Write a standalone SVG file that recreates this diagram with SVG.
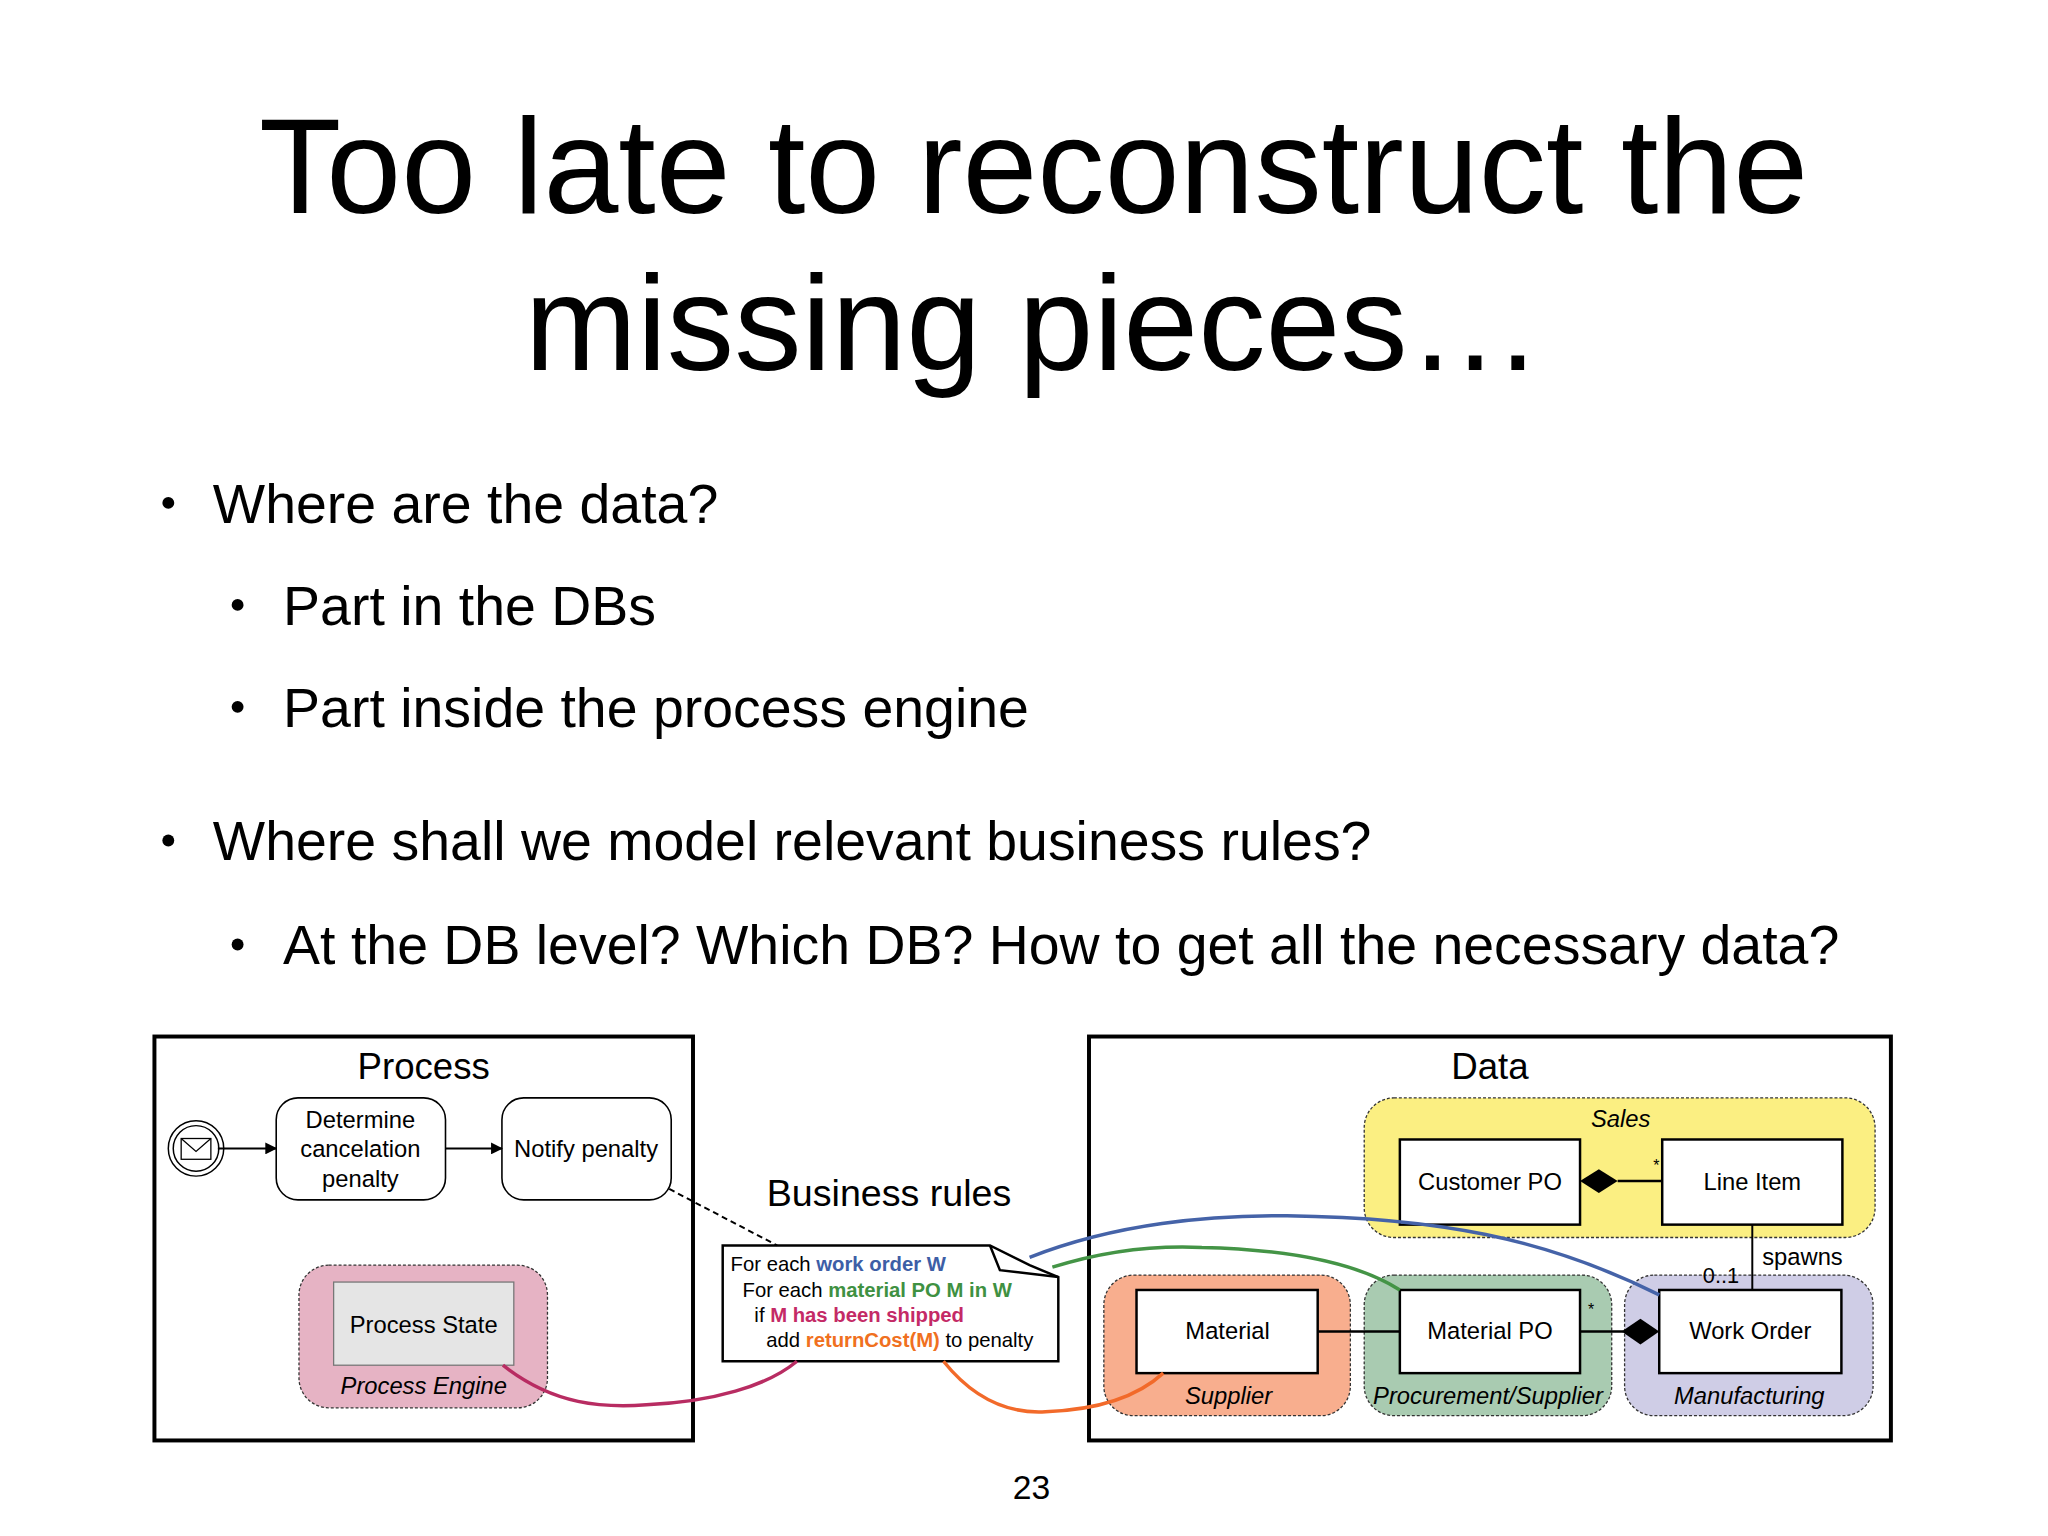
<svg xmlns="http://www.w3.org/2000/svg" width="2048" height="1536" viewBox="0 0 2048 1536">
<defs>
<style>
text{font-family:"Liberation Sans",Arial,sans-serif;fill:#000}
.title{font-size:136px;text-anchor:middle}
.b1{font-size:56px}
.frame{fill:#fff;stroke:#000;stroke-width:4}
.task{fill:#fff;stroke:#000;stroke-width:1.6}
.t{font-size:24px;text-anchor:middle}
.grp{stroke:#333;stroke-width:1.3;stroke-dasharray:3 2}
.gl{font-size:24px;font-style:italic;text-anchor:middle}
.cls{fill:#fff;stroke:#000;stroke-width:2.5}
.note{font-size:20.5px}
.cv{fill:none;stroke-width:3.5}
</style>
<marker id="ar" markerWidth="12" markerHeight="12" refX="11" refY="6" orient="auto" markerUnits="userSpaceOnUse"><path d="M0,0 L12,6 L0,12 z" fill="#000"/></marker>
</defs>
<rect width="2048" height="1536" fill="#fff"/>
<g transform="scale(0.99)">
<g id="title">
<text class="title" x="1044" y="215">Too late to reconstruct the</text>
<text class="title" x="1044" y="374">missing pieces…</text>
</g>
<g id="bullets" class="b1">
<circle cx="170" cy="508" r="6"/><text x="215" y="528">Where are the data?</text>
<circle cx="240" cy="611" r="6"/><text x="286" y="631">Part in the DBs</text>
<circle cx="240" cy="714" r="6"/><text x="286" y="734">Part inside the process engine</text>
<circle cx="170" cy="849" r="6"/><text x="215" y="869">Where shall we model relevant business rules?</text>
<circle cx="240" cy="954" r="6"/><text x="286" y="974">At the DB level? Which DB? How to get all the necessary data?</text>
</g>
<text x="1042" y="1514" font-size="34" text-anchor="middle">23</text>

<g id="process">
<rect class="frame" x="156" y="1047" width="544" height="408"/>
<text x="428" y="1090" font-size="37" text-anchor="middle">Process</text>
</g>
<g id="start">
<circle cx="198" cy="1160" r="28" fill="#fff" stroke="#000" stroke-width="1.5"/>
<circle cx="198" cy="1160" r="23" fill="#fff" stroke="#000" stroke-width="1.5"/>
<rect x="183" y="1150" width="30" height="21" fill="#fff" stroke="#000" stroke-width="1.3"/>
<path d="M183,1150 L198,1163 L213,1150" fill="none" stroke="#000" stroke-width="1.3"/>
</g>
<g id="task1">
<rect class="task" x="279" y="1109" width="171" height="103" rx="22"/>
<text class="t" x="364" y="1139">Determine</text>
<text class="t" x="364" y="1169">cancelation</text>
<text class="t" x="364" y="1199">penalty</text>
</g>
<g id="task2">
<rect class="task" x="507" y="1109" width="171" height="103" rx="22"/>
<text class="t" x="592" y="1169">Notify penalty</text>
</g>
<g id="engine">
<rect class="grp" x="302" y="1278" width="251" height="144" rx="30" fill="#e6b3c4"/>
<rect x="337" y="1295" width="182" height="84" fill="#e5e5e5" stroke="#777" stroke-width="1.3"/>
<text class="t" x="428" y="1346">Process State</text>
<text class="gl" x="428" y="1408">Process Engine</text>
</g>

<text x="898" y="1218" font-size="38" text-anchor="middle">Business rules</text>
<g id="note">
<path d="M730,1258 L1000,1258 L1040,1278 L1069,1290 L1069,1375 L730,1375 Z" fill="#fff" stroke="#000" stroke-width="2.5"/>
<path d="M1000,1258 L1010,1283 L1069,1290" fill="none" stroke="#000" stroke-width="2.5"/>
<text class="note" x="738" y="1284">For each <tspan fill="#3d5ea6" font-weight="bold">work order W</tspan></text>
<text class="note" x="750" y="1310">For each <tspan fill="#3f9142" font-weight="bold">material PO M in W</tspan></text>
<text class="note" x="762" y="1335">if <tspan fill="#c42a66" font-weight="bold">M has been shipped</tspan></text>
<text class="note" x="774" y="1361">add <tspan fill="#f07020" font-weight="bold">returnCost(M)</tspan> to penalty</text>
</g>

<g id="data">
<rect class="frame" x="1100" y="1047" width="810" height="408"/>
<text x="1505" y="1090" font-size="37" text-anchor="middle">Data</text>
</g>
<g id="sales">
<rect class="grp" x="1378" y="1109" width="516" height="141" rx="30" fill="#fbef82"/>
<text class="gl" x="1637" y="1138">Sales</text>
</g>
<g id="supplier">
<rect class="grp" x="1115" y="1288" width="249" height="142" rx="30" fill="#f8ae8e"/>
<text class="gl" x="1241" y="1418">Supplier</text>
</g>
<g id="procurement">
<rect class="grp" x="1378" y="1288" width="250" height="142" rx="30" fill="#a9cbb1"/>
<text class="gl" x="1503" y="1418">Procurement/Supplier</text>
</g>
<g id="manufacturing">
<rect class="grp" x="1641" y="1288" width="251" height="142" rx="30" fill="#cfcde6"/>
<text class="gl" x="1767" y="1418">Manufacturing</text>
</g>
<g id="customerpo"><rect class="cls" x="1414" y="1151" width="182" height="86"/><text class="t" x="1505" y="1202">Customer PO</text></g>
<g id="lineitem"><rect class="cls" x="1679" y="1151" width="182" height="86"/><text class="t" x="1770" y="1202">Line Item</text></g>
<g id="material"><rect class="cls" x="1148" y="1303" width="183" height="84"/><text class="t" x="1240" y="1353">Material</text></g>
<g id="materialpo"><rect class="cls" x="1414" y="1303" width="182" height="84"/><text class="t" x="1505" y="1353">Material PO</text></g>
<g id="workorder"><rect class="cls" x="1676" y="1303" width="184" height="84"/><text class="t" x="1768" y="1353">Work Order</text></g>

<g id="connectors">
<line x1="220" y1="1160" x2="279" y2="1160" stroke="#000" stroke-width="2" marker-end="url(#ar)"/>
<line x1="450" y1="1160" x2="507" y2="1160" stroke="#000" stroke-width="2" marker-end="url(#ar)"/>
<line x1="676" y1="1201" x2="785" y2="1258" stroke="#000" stroke-width="2" stroke-dasharray="6 4"/>
<line x1="1634" y1="1193" x2="1679" y2="1193" stroke="#000" stroke-width="2.5"/>
<path d="M1596,1193 L1615,1181 L1634,1193 L1615,1205 Z" fill="#000"/>
<text x="1670" y="1183" font-size="16">*</text>
<line x1="1331" y1="1345" x2="1414" y2="1345" stroke="#000" stroke-width="2.5"/>
<line x1="1596" y1="1345" x2="1640" y2="1345" stroke="#000" stroke-width="2.5"/>
<path d="M1638,1345 L1657,1332 L1676,1345 L1657,1358 Z" fill="#000"/>
<text x="1604" y="1328" font-size="16">*</text>
<line x1="1770" y1="1237" x2="1770" y2="1303" stroke="#000" stroke-width="2"/>
<text x="1780" y="1278" font-size="24">spawns</text>
<text x="1720" y="1296" font-size="22">0..1</text>
<path class="cv" stroke="#b82c62" d="M508,1379 C560,1420 610,1422 653,1419 C720,1416 775,1400 805,1375"/>
<path class="cv" stroke="#f26a2a" d="M953,1375 C985,1415 1020,1428 1056,1426 C1110,1424 1150,1410 1175,1387"/>
<path class="cv" stroke="#4563a8" d="M1040,1270 C1130,1235 1220,1228 1300,1228 C1450,1230 1560,1250 1676,1308"/>
<path class="cv" stroke="#449446" d="M1063,1280 C1120,1262 1170,1258 1214,1260 C1300,1262 1370,1275 1414,1303"/>
</g>
</g>
</svg>
